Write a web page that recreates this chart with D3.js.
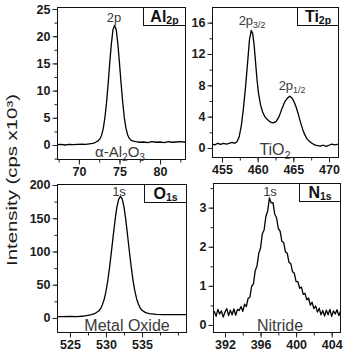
<!DOCTYPE html>
<html><head><meta charset="utf-8">
<script src="https://cdn.jsdelivr.net/npm/d3@7"></script>
<style>body{margin:0;background:#fff}svg{display:block}</style>
</head><body><svg id="c" width="344" height="354"></svg>
<script>
// ---- Al 2p (alpha-Al2O3) ----
const alX = [67.3,67.8,68.3,68.8,69.3,69.8,70.3,70.8,71.3,71.7,72.0,72.35,72.6,72.8,73.0,73.2,73.4,73.6,73.8,74.0,74.2,74.4,74.6,74.8,75.0,75.2,75.4,75.6,75.8,76.0,76.2,76.4,76.7,77.0,77.5,78.0,78.5,79.0,79.5,80.0,80.5,81.0,81.5,82.0,82.5,83.2];
const alY = [0.05,0.1,0.0,0.12,0.05,0.1,0.15,0.1,0.22,0.3,0.45,0.75,1.15,1.8,3.0,5.0,7.7,11.2,15.1,18.6,21.2,22.0,21.2,18.6,15.1,11.3,7.8,5.0,3.1,1.9,1.25,0.9,0.7,0.6,0.5,0.55,0.45,0.6,0.5,0.55,0.45,0.6,0.5,0.55,0.6,0.5];
const alXTicks = [70,75,80];
const alYTicks = [0,5,10,15,20,25];

// ---- Ti 2p (TiO2) ----
const tiX = [453.6,454.0,454.4,454.8,455.2,455.6,456.0,456.4,456.8,457.1,457.4,457.7,458.0,458.3,458.6,458.85,459.1,459.3,459.5,459.7,459.9,460.1,460.4,460.7,461.0,461.4,461.8,462.2,462.6,463.0,463.4,463.8,464.2,464.5,464.8,465.1,465.4,465.7,466.0,466.3,466.6,466.9,467.2,467.6,468.0,468.4,468.8,469.2,469.6,470.0,470.4,470.8,471.4];
const tiY = [0.5,0.4,0.6,0.45,0.6,0.5,0.6,0.7,0.6,0.8,1.4,2.8,5.0,7.8,11.0,13.8,15.0,14.6,13.2,11.0,8.8,7.1,5.5,4.6,4.0,3.6,3.3,3.2,3.4,4.0,5.0,5.9,6.4,6.6,6.4,5.9,5.2,4.3,3.3,2.4,1.7,1.2,0.9,0.6,0.4,0.3,0.25,0.35,0.2,0.35,0.5,0.4,0.5];
const tiXTicks = [455,460,465,470];
const tiYTicks = [0,4,8,12,16];

// ---- O 1s (Metal Oxide) ----
const oX = [523.2,524.0,525.0,526.0,527.0,527.5,528.0,528.5,529.0,529.25,529.5,529.75,530.0,530.25,530.5,530.75,531.0,531.25,531.5,531.75,532.0,532.25,532.5,532.75,533.0,533.25,533.5,533.75,534.0,534.25,534.5,534.75,535.0,535.5,536.0,537.0,538.0,539.0,540.0,541.3];
const oY = [2,2,2.5,2,3,4,5,7,10.5,14,20,28,40,56,76,99,123,146,166,178,183,179,167,148,124,100,77,57,41,29,21,15,11.5,8,6.5,5.5,5,5,5,5];
const oXTicks = [525,530,535];
const oYTicks = [0,50,100,150,200];

// ---- N 1s (Nitride) ----
const nX = [390.8,391.0,391.2,391.4,391.6,391.8,392.0,392.2,392.4,392.6,392.8,393.0,393.2,393.4,393.6,393.8,394.0,394.2,394.4,394.6,394.8,395.0,395.2,395.4,395.6,395.8,396.0,396.2,396.4,396.6,396.8,397.0,397.2,397.4,397.6,397.8,398.0,398.2,398.4,398.6,398.8,399.0,399.2,399.4,399.6,399.8,400.0,400.2,400.4,400.6,400.8,401.0,401.2,401.4,401.6,401.8,402.0,402.2,402.4,402.6,402.8,403.0,403.2,403.4,403.6,403.8,404.0,404.2,404.4,404.6,404.8,405.0];
const nY = [0.35,0.22,0.40,0.28,0.36,0.20,0.33,0.42,0.24,0.38,0.26,0.41,0.25,0.40,0.37,0.47,0.35,0.53,0.47,0.68,0.71,0.99,1.05,1.39,1.51,1.83,1.97,2.33,2.43,2.78,2.91,3.25,3.12,3.13,2.83,2.74,2.46,2.40,2.14,2.11,1.87,1.84,1.60,1.57,1.36,1.32,1.11,1.11,0.94,0.97,0.78,0.81,0.64,0.69,0.51,0.58,0.42,0.49,0.33,0.43,0.26,0.37,0.23,0.38,0.26,0.40,0.22,0.36,0.28,0.39,0.24,0.35];
const nXTicks = [392,396,400,404];
const nYTicks = [0,1,2,3];

const yTitle = "Intensity (cps x10³)";

const panels = [
  {xs:alX, ys:alY, xd:[67.3,83.2], yd:[-2.76,25.37], L:57, R:186, T:7, B:160,
   xt:alXTicks, yt:alYTicks, xMinor:2.5, yMinor:2.5,
   tag:["Al","2p"], boxW:43,
   notes:[{parts:[["2p"]], x:114, y:22, size:13},
          {parts:[["α-Al"],["2","sub"],["O"],["3","sub"]], x:120, y:157, size:15}]},
  {xs:tiX, ys:tiY, xd:[453.6,471.4], yd:[-1.28,18.0], L:212, R:339, T:7, B:158,
   xt:tiXTicks, yt:tiYTicks, xMinor:2.5, yMinor:2,
   tag:["Ti","2p"], boxW:42,
   notes:[{parts:[["2p"],["3/2","sub"]], x:252, y:25, size:13},
          {parts:[["2p"],["1/2","sub"]], x:292, y:90, size:13},
          {parts:[["TiO"],["2","sub"]], x:275, y:155, size:16}]},
  {xs:oX, ys:oY, xd:[523.2,541.25], yd:[-22.6,201.5], L:57, R:187, T:184, B:333,
   xt:oXTicks, yt:oYTicks, xMinor:2.5, yMinor:25,
   tag:["O","1s"], boxW:43,
   notes:[{parts:[["1s"]], x:119, y:196, size:13},
          {parts:[["Metal Oxide"]], x:127, y:331, size:16}]},
  {xs:nX, ys:nY, xd:[390.65,405.05], yd:[-0.205,3.63], L:213, R:341, T:183, B:333,
   xt:nXTicks, yt:nYTicks, xMinor:2, yMinor:0.5,
   tag:["N","1s"], boxW:42,
   notes:[{parts:[["1s"]], x:270, y:196, size:13},
          {parts:[["Nitride"]], x:280, y:331, size:16}]}
];

const svg = d3.select("#c");
svg.append("rect").attr("width",344).attr("height",354).attr("fill","#fff");
const FONT = "Liberation Sans, Arial, Helvetica, sans-serif";

panels.forEach((p,i) => {
  const x = d3.scaleLinear().domain(p.xd).range([p.L,p.R]);
  const y = d3.scaleLinear().domain(p.yd).range([p.B,p.T]);
  const g = svg.append("g");

  const cid = "clip"+i;
  svg.append("clipPath").attr("id",cid).append("rect")
     .attr("x",p.L).attr("y",p.T).attr("width",p.R-p.L).attr("height",p.B-p.T);

  // minor ticks
  const xm = d3.range(Math.ceil(p.xd[0]/p.xMinor)*p.xMinor, p.xd[1], p.xMinor);
  const ymn = d3.range(Math.ceil(p.yd[0]/p.yMinor)*p.yMinor, p.yd[1], p.yMinor);
  const axL = g.append("g").attr("transform",`translate(${p.L},0)`)
     .call(d3.axisLeft(y).tickValues(ymn).tickSize(2.5).tickFormat(""));
  const axB = g.append("g").attr("transform",`translate(0,${p.B})`)
     .call(d3.axisBottom(x).tickValues(xm).tickSize(2.5).tickFormat(""));
  [axL,axB].forEach(a=>{a.select(".domain").remove(); a.selectAll("line").attr("stroke","#222");});

  // major ticks
  const yA = g.append("g").attr("transform",`translate(${p.L},0)`)
     .call(d3.axisLeft(y).tickValues(p.yt).tickSize(4.5).tickPadding(2).tickFormat(d3.format("d")));
  const xA = g.append("g").attr("transform",`translate(0,${p.B})`)
     .call(d3.axisBottom(x).tickValues(p.xt).tickSize(4.5).tickPadding(3).tickFormat(d3.format("d")));
  [yA,xA].forEach(a=>{
    a.select(".domain").remove();
    a.selectAll("line").attr("stroke","#222");
    a.selectAll("text").attr("font-family",FONT).attr("font-size",12.5)
     .attr("font-weight","bold").attr("fill","#1a1a1a");
  });

  // spectrum line
  const line = d3.line().x(d=>x(d[0])).y(d=>y(d[1]));
  g.append("path").datum(p.xs.map((v,k)=>[v,p.ys[k]]))
    .attr("clip-path",`url(#${cid})`)
    .attr("d",line).attr("fill","none").attr("stroke","#000")
    .attr("stroke-width",1.3).attr("stroke-linejoin","round");

  // frame
  g.append("rect").attr("x",p.L+0.5).attr("y",p.T+0.5)
    .attr("width",p.R-p.L-1).attr("height",p.B-p.T-1)
    .attr("fill","none").attr("stroke","#111").attr("stroke-width",1);

  // element tag box
  g.append("rect").attr("x",p.R-p.boxW+0.5).attr("y",p.T+0.5)
    .attr("width",p.boxW-1).attr("height",18)
    .attr("fill","#fff").attr("stroke","#111").attr("stroke-width",1);
  const tt = g.append("text").attr("x",p.R-p.boxW/2).attr("y",p.T+15)
    .attr("text-anchor","middle").attr("font-family",FONT).attr("font-weight","bold")
    .attr("fill","#111");
  tt.append("tspan").attr("font-size",16).text(p.tag[0]);
  tt.append("tspan").attr("font-size",10.5).attr("dy",2).text(p.tag[1]);

  // annotations
  p.notes.forEach(n=>{
    const t = g.append("text").attr("x",n.x).attr("y",n.y).attr("text-anchor","middle")
      .attr("font-family",FONT).attr("font-size",n.size).attr("fill","#3a3a3a");
    let sub=false;
    n.parts.forEach(pt=>{
      const s = t.append("tspan").text(pt[0]);
      if(pt[1]==="sub"){ s.attr("font-size",n.size*0.68); if(!sub){s.attr("dy",n.size*0.25);} sub=true; }
      else { s.attr("font-size",n.size); if(sub){s.attr("dy",-n.size*0.25);} sub=false; }
    });
  });
});

// y-axis title
svg.append("text").attr("transform","translate(17,180) rotate(-90)")
  .attr("text-anchor","middle").attr("font-family",FONT).attr("font-size",14)
  .attr("fill","#1a1a1a").attr("textLength",172).attr("lengthAdjust","spacingAndGlyphs")
  .text(yTitle);
</script>
</body></html>
